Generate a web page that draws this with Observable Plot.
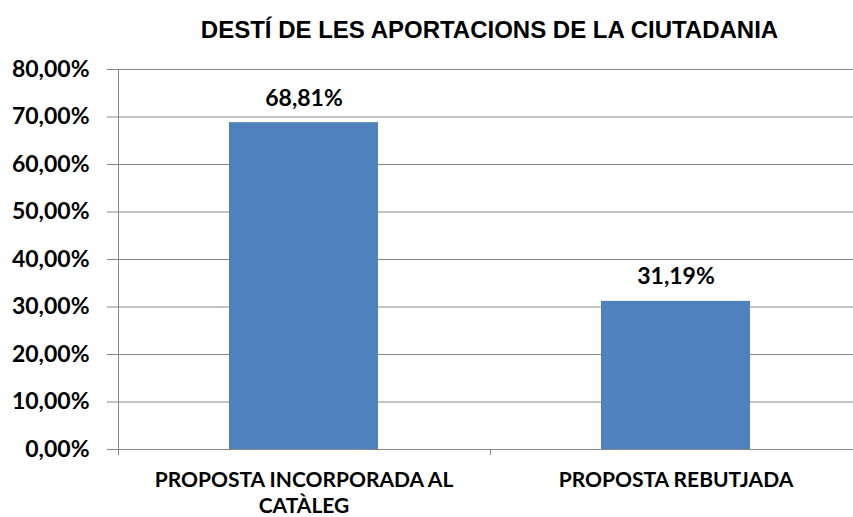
<!DOCTYPE html>
<html>
<head>
<meta charset="utf-8">
<script src="https://cdn.jsdelivr.net/npm/d3@7"></script>
<script src="https://cdn.jsdelivr.net/npm/@observablehq/plot@0.6"></script>
<style>
  html, body { margin: 0; padding: 0; background: #ffffff; }
</style>
</head>
<body>
<div id="chart"></div>
<script>
const title = "DESTÍ DE LES APORTACIONS DE LA CIUTADANIA";
const categories = ["PROPOSTA INCORPORADA AL\nCATÀLEG", "PROPOSTA REBUTJADA"];
const values = [68.81, 31.19];
const yTicks = [0, 10, 20, 30, 40, 50, 60, 70, 80];

const data = categories.map((c, i) => ({category: c, value: values[i]}));
const pct = v => d3.format(".2f")(v).replace(".", ",") + "%";
const gridColor = "#868686";

function categoryTicks(index, scales, vals, dims) {
  const x = scales.x, y = scales.y;
  const bw = x.bandwidth ? x.bandwidth() : 0;
  const x0 = x(categories[0]), x1 = x(categories[1]);
  const step = x1 - x0;
  const start = x0 - (step - bw) / 2;
  const g = d3.create("svg:g").attr("stroke", gridColor).attr("stroke-width", 1);
  const y0 = y(0), yTop = y(d3.max(yTicks));
  g.append("line")
    .attr("x1", Math.round(start) + 0.5).attr("x2", Math.round(start) + 0.5)
    .attr("y1", yTop).attr("y2", y0 + 6);
  for (let i = 1; i <= categories.length; i++) {
    const xp = Math.round(start + i * step) + 0.5;
    g.append("line").attr("x1", xp).attr("x2", xp).attr("y1", y0).attr("y2", y0 + 6);
  }
  return g.node();
}

const chart = Plot.plot({
  width: 853,
  height: 517,
  marginTop: 69,
  marginBottom: 68,
  marginLeft: 117,
  marginRight: 0,
  style: {fontFamily: "Lato, 'Open Sans', sans-serif", fontWeight: "bold", fontSize: "20px", background: "#ffffff", color: "#000000"},
  x: {domain: categories, range: [117, 861], paddingInner: 0.6, paddingOuter: 0.3, axis: null, label: null},
  y: {domain: [0, 80], axis: null, label: null},
  marks: [
    Plot.ruleY(yTicks, {stroke: gridColor, strokeOpacity: 1, insetLeft: -10}),
    Plot.barY(data, {x: "category", y: "value", fill: "#4F81BD"}),
    categoryTicks,
    Plot.axisY(yTicks, {tickSize: 0, tickPadding: 28, tickFormat: pct, fontSize: 23, fill: "#000000", fontWeight: "bold", label: null}),
    Plot.axisX({tickSize: 0, tickPadding: 18, fontSize: 21, lineHeight: 1.28, fill: "#000000", fontWeight: "bold", label: null}),
    Plot.text(data, {x: "category", y: "value", text: d => pct(d.value), dy: -24.5, fontSize: 23, fill: "#000000", fontWeight: "bold"}),
    Plot.text([title], {frameAnchor: "top", lineAnchor: "middle", dy: -39, dx: 4, fontSize: 24, fontFamily: "'Liberation Sans', Arial, sans-serif", fontWeight: "bold", fill: "#000000"})
  ]
});
document.getElementById("chart").appendChild(chart);
</script>
</body>
</html>
